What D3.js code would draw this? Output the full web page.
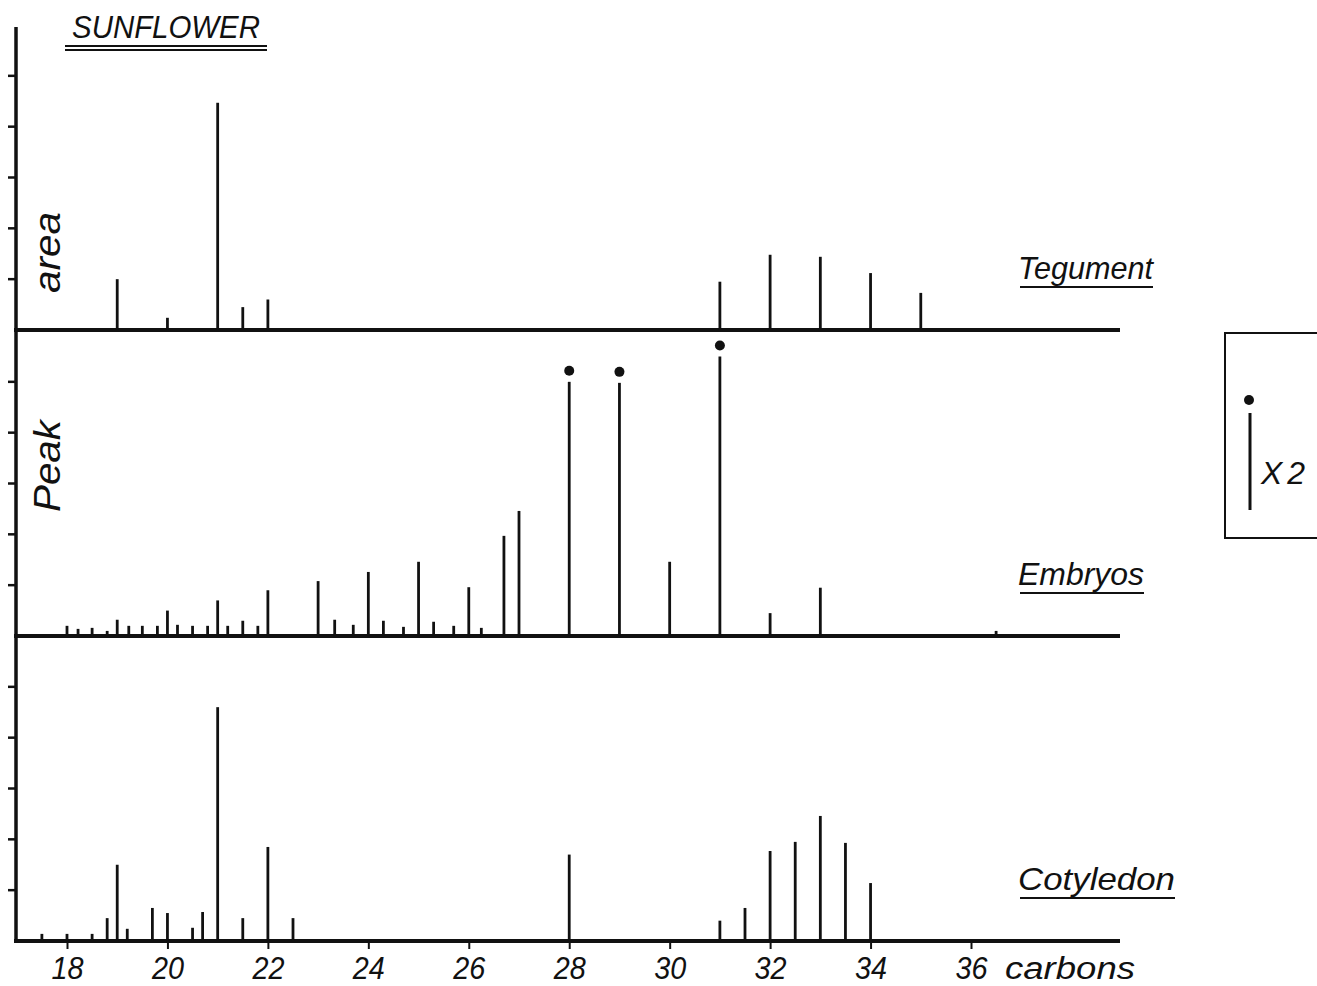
<!DOCTYPE html>
<html lang="en">
<head>
<meta charset="UTF-8">
<title>Sunflower</title>
<script src="https://cdn.jsdelivr.net/npm/d3@7"></script>
<style>
  body { margin: 0; background: #fff; }
  text { font-family: "Liberation Sans", "DejaVu Sans", sans-serif; font-style: italic; fill: #111; }
</style>
</head>
<body>
<svg id="chart" width="1317" height="986"></svg>
<script>
// peak positions (carbons) and heights (in tick units)
var tegumentCarbons = [19, 20, 21, 21.5, 22, 31, 32, 33, 34, 35];
var tegumentArea    = [1.0, 0.24, 4.47, 0.45, 0.6, 0.95, 1.48, 1.44, 1.12, 0.73];

var embryosCarbons = [18, 18.22, 18.5, 18.8, 19, 19.23, 19.5, 19.8, 20, 20.2, 20.5, 20.8, 21, 21.2, 21.5, 21.8, 22,
                      23, 23.33, 23.7, 24, 24.3, 24.7, 25, 25.3, 25.7, 26, 26.25, 26.7, 27, 28, 29, 30, 31, 32, 33, 36.5];
var embryosArea    = [0.2, 0.14, 0.16, 0.1, 0.32, 0.2, 0.2, 0.2, 0.5, 0.22, 0.2, 0.2, 0.7, 0.2, 0.3, 0.2, 0.9,
                      1.08, 0.32, 0.22, 1.26, 0.3, 0.18, 1.46, 0.28, 0.2, 0.96, 0.16, 1.97, 2.46, 5.0, 4.98, 1.46, 5.5, 0.45, 0.95, 0.1];
// peaks drawn at half scale (marked with a dot, "X2")
var embryosHalved  = [28, 29, 31];

var cotyledonCarbons = [17.5, 18, 18.5, 18.8, 19, 19.2, 19.7, 20, 20.5, 20.7, 21, 21.5, 22, 22.5, 28, 31, 31.5, 32, 32.5, 33, 33.5, 34];
var cotyledonArea    = [0.14, 0.14, 0.14, 0.45, 1.5, 0.24, 0.65, 0.55, 0.26, 0.57, 4.6, 0.45, 1.85, 0.45, 1.7, 0.4, 0.65, 1.77, 1.95, 2.46, 1.93, 1.14];

var xTicks = [18, 20, 22, 24, 26, 28, 30, 32, 34, 36];
var yTicks = [1, 2, 3, 4, 5];

var svg = d3.select("#chart");

var axisX = 16, axisRight = 1120;
var x = d3.scaleLinear().domain([18, 36]).range([67, 971]);

var panels = [
  { name: "Tegument",  base: 330, carbons: tegumentCarbons,  area: tegumentArea,  labelY: 279, labelW: 135 },
  { name: "Embryos",   base: 636, carbons: embryosCarbons,   area: embryosArea,   labelY: 585, labelW: 126 },
  { name: "Cotyledon", base: 941, carbons: cotyledonCarbons, area: cotyledonArea, labelY: 890, labelW: 157 }
];

// left axis
svg.append("line")
  .attr("x1", axisX).attr("x2", axisX)
  .attr("y1", 27).attr("y2", 943)
  .attr("stroke", "#111").attr("stroke-width", 3.5);

panels.forEach(function (p) {
  var y = d3.scaleLinear().domain([0, 6]).range([p.base, p.base - 305]);
  var g = svg.append("g");

  // y ticks on the left
  g.selectAll("line.ytick").data(yTicks).enter().append("line")
    .attr("class", "ytick")
    .attr("x1", axisX - 8).attr("x2", axisX)
    .attr("y1", function (d) { return y(d); })
    .attr("y2", function (d) { return y(d); })
    .attr("stroke", "#111").attr("stroke-width", 2.5);

  // baseline
  g.append("line")
    .attr("x1", axisX - 2).attr("x2", axisRight)
    .attr("y1", p.base).attr("y2", p.base)
    .attr("stroke", "#111").attr("stroke-width", 3.8);

  // peaks
  var pts = p.carbons.map(function (c, i) { return { c: c, v: p.area[i] }; });
  g.selectAll("line.peak").data(pts).enter().append("line")
    .attr("class", "peak")
    .attr("x1", function (d) { return x(d.c); })
    .attr("x2", function (d) { return x(d.c); })
    .attr("y1", p.base)
    .attr("y2", function (d) { return y(d.v); })
    .attr("stroke", "#111").attr("stroke-width", 2.8);

  if (p.name === "Embryos") {
    g.selectAll("circle.half").data(pts.filter(function (d) { return embryosHalved.indexOf(d.c) >= 0; }))
      .enter().append("circle")
      .attr("cx", function (d) { return x(d.c); })
      .attr("cy", function (d) { return y(d.v) - 11; })
      .attr("r", 5)
      .attr("fill", "#111");
  }

  // series label, underlined
  g.append("text")
    .attr("x", 1018).attr("y", p.labelY)
    .attr("font-size", 32)
    .attr("textLength", p.labelW).attr("lengthAdjust", "spacingAndGlyphs")
    .text(p.name);
  g.append("line")
    .attr("x1", 1020).attr("x2", 1018 + p.labelW)
    .attr("y1", p.labelY + 8).attr("y2", p.labelY + 8)
    .attr("stroke", "#111").attr("stroke-width", 1.8);
});

// x axis
var xAxis = svg.append("g")
  .attr("transform", "translate(0," + panels[2].base + ")")
  .call(d3.axisBottom(x).tickValues(xTicks).tickSize(8).tickFormat(d3.format("d")));
xAxis.select(".domain").remove();
xAxis.attr("font-family", null).attr("font-size", null);
xAxis.selectAll(".tick line").attr("stroke", "#111").attr("stroke-width", 2);
xAxis.selectAll(".tick text")
  .attr("y", 38).attr("dy", null)
  .attr("font-size", 31)
  .attr("fill", "#111")
  .attr("textLength", 32).attr("lengthAdjust", "spacingAndGlyphs");

svg.append("text")
  .attr("x", 1005).attr("y", 979)
  .attr("font-size", 31)
  .attr("textLength", 130).attr("lengthAdjust", "spacingAndGlyphs")
  .text("carbons");

// title
svg.append("text")
  .attr("x", 72).attr("y", 38)
  .attr("font-size", 32)
  .attr("textLength", 188).attr("lengthAdjust", "spacingAndGlyphs")
  .text("SUNFLOWER");
[46, 50].forEach(function (yy) {
  svg.append("line")
    .attr("x1", 65).attr("x2", 267)
    .attr("y1", yy).attr("y2", yy)
    .attr("stroke", "#111").attr("stroke-width", 2);
});

// y axis words
svg.append("text")
  .attr("transform", "translate(60,293) rotate(-90)")
  .attr("font-size", 37)
  .attr("textLength", 81).attr("lengthAdjust", "spacingAndGlyphs")
  .text("area");
svg.append("text")
  .attr("transform", "translate(60,512) rotate(-90)")
  .attr("font-size", 37)
  .attr("textLength", 92).attr("lengthAdjust", "spacingAndGlyphs")
  .text("Peak");

// legend box
svg.append("rect")
  .attr("x", 1225).attr("y", 333)
  .attr("width", 110).attr("height", 205)
  .attr("fill", "none").attr("stroke", "#111").attr("stroke-width", 2);
svg.append("circle")
  .attr("cx", 1249).attr("cy", 400).attr("r", 5).attr("fill", "#111");
svg.append("line")
  .attr("x1", 1250).attr("x2", 1250)
  .attr("y1", 413).attr("y2", 510)
  .attr("stroke", "#111").attr("stroke-width", 3);
svg.append("text")
  .attr("x", 1261).attr("y", 484)
  .attr("font-size", 32)
  .attr("textLength", 44).attr("lengthAdjust", "spacing")
  .text("X2");
</script>
</body>
</html>
